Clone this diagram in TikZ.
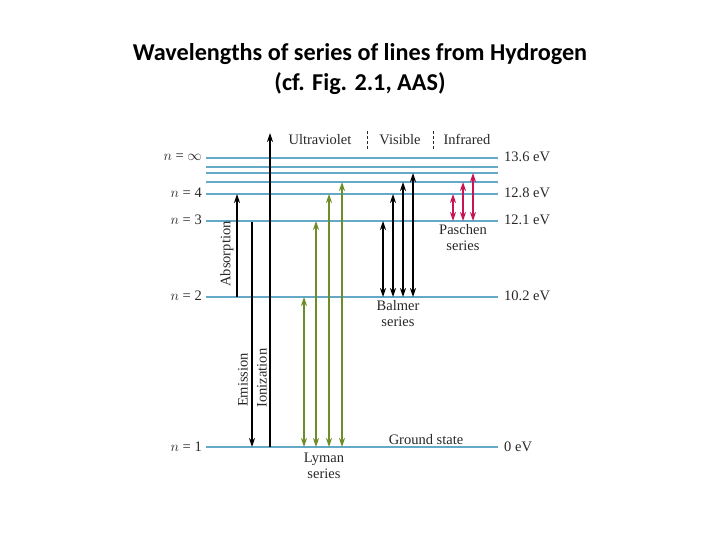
\documentclass[tikz,border=0pt]{standalone}
\usepackage{fontspec}
\setmainfont{Liberation Serif}
\newfontfamily\titlefont{Carlito}
\usetikzlibrary{arrows.meta}
\definecolor{lvl}{RGB}{100,170,200}
\definecolor{lym}{RGB}{110,140,40}
\definecolor{pas}{RGB}{200,20,85}
\definecolor{txt}{RGB}{40,40,40}
\begin{document}
\begin{tikzpicture}[x=1pt,y=-1pt,
  level/.style={draw=lvl,line width=1.2pt},
  lab/.style={text=txt,font=\fontsize{14.5}{16}\selectfont,inner sep=0pt},
  arr/.style={line width=1.3pt,-{Stealth[length=9pt,width=6pt]}},
  darr/.style={line width=1.3pt,{Stealth[length=9pt,width=6pt]}-{Stealth[length=9pt,width=6pt]}},
  sep/.style={draw=txt,line width=0.7pt,dash pattern=on 3pt off 2pt}]
\useasboundingbox (0,0) rectangle (720,540);
% title
\node[font=\titlefont\bfseries\fontsize{24.2}{30}\selectfont,align=center] (title) at (360,69)
  {Wavelengths of series of lines from Hydrogen\\(cf. Fig. 2.1, AAS)};
% level lines
\foreach \nm/\yy in {l1/447,l2/297,l3/221,l4/194,l5/182,l6/173,l7/167,linf/158}{
  \coordinate (\nm w) at (206,\yy);
  \coordinate (\nm e) at (498,\yy);
  \draw[level] (\nm w) -- (\nm e);
}
% level labels
\node[lab,anchor=east] (ninf) at (202,157) {$n$ = $\infty$};
\node[lab,anchor=east] (n4) at (202,193) {$n$ = 4};
\node[lab,anchor=east] (n3) at (202,220) {$n$ = 3};
\node[lab,anchor=east] (n2) at (202,296) {$n$ = 2};
\node[lab,anchor=east] (n1) at (202,447) {$n$ = 1};
% energies
\node[lab,anchor=west] (e136) at (504,157) {13.6 eV};
\node[lab,anchor=west] (e128) at (504,193) {12.8 eV};
\node[lab,anchor=west] (e121) at (504,220) {12.1 eV};
\node[lab,anchor=west] (e102) at (504,296) {10.2 eV};
\node[lab,anchor=west] (e0) at (504,447) {0 eV};
% header
\node[lab,anchor=base] (uv) at (320,145) {Ultraviolet};
\node[lab,anchor=base] (vis) at (400,145) {Visible};
\node[lab,anchor=base] (ir) at (467,145) {Infrared};
\coordinate (s1a) at (367,131); \coordinate (s1b) at (367,149);
\coordinate (s2a) at (433,131); \coordinate (s2b) at (433,149);
\draw[sep] (s1a) -- (s1b);
\draw[sep] (s2a) -- (s2b);
% absorption / emission / ionization
\coordinate (abs0) at (237,297); \coordinate (abs1) at (237,194);
\draw[arr] (abs0) -- (abs1);
\node[lab,rotate=90] (abslab) at (227,254) {Absorption};
\coordinate (em0) at (252,222); \coordinate (em1) at (252,447);
\draw[arr] (em0) -- (em1);
\node[lab,rotate=90] (emlab) at (243,380) {Emission};
\coordinate (io0) at (270,447); \coordinate (io1) at (270,133);
\draw[arr] (io0) -- (io1);
\node[lab,rotate=90] (iolab) at (262,378) {Ionization};
% Lyman
\foreach \i/\xx/\yy in {1/304/297,2/316/221,3/329/194,4/342/182}{
  \coordinate (ly\i a) at (\xx,447); \coordinate (ly\i b) at (\xx,\yy);
  \draw[darr,draw=lym,fill=lym] (ly\i a) -- (ly\i b);
}
\node[lab,align=center] (lylab) at (324,466) {Lyman\\series};
% Balmer
\foreach \i/\xx/\yy in {1/383/221,2/393/194,3/403/182,4/413/173}{
  \coordinate (ba\i a) at (\xx,297); \coordinate (ba\i b) at (\xx,\yy);
  \draw[darr] (ba\i a) -- (ba\i b);
}
\node[lab,align=center] (balab) at (398,314) {Balmer\\series};
% Paschen
\foreach \i/\xx/\yy in {1/453/194,2/463/182,3/473/173}{
  \coordinate (pa\i a) at (\xx,221); \coordinate (pa\i b) at (\xx,\yy);
  \draw[darr,draw=pas,fill=pas] (pa\i a) -- (pa\i b);
}
\node[lab,align=center] (palab) at (463,238) {Paschen\\series};
\node[lab] (gs) at (426,440) {Ground state};
\end{tikzpicture}
\end{document}
